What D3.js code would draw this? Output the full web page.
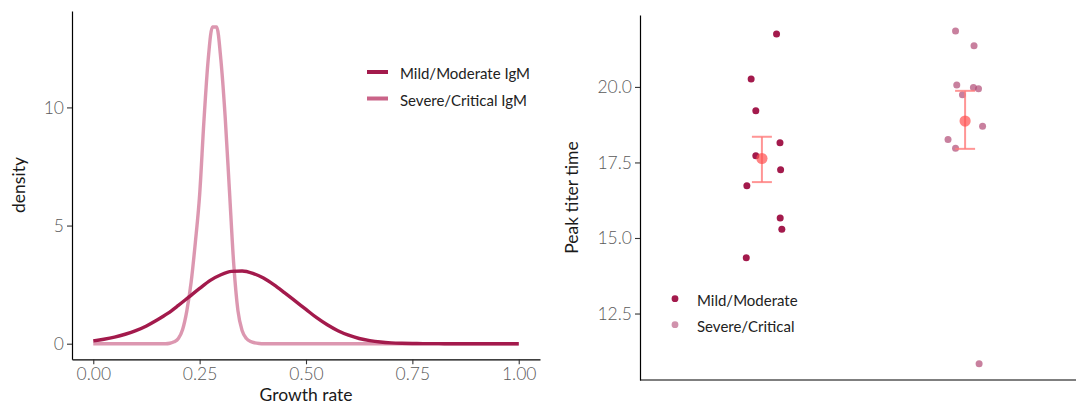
<!DOCTYPE html>
<html><head><meta charset="utf-8">
<script src="https://cdn.jsdelivr.net/npm/d3@7"></script>
<style>
body{margin:0;background:#fff}
svg{display:block}
text{font-family:Lato,"Open Sans",sans-serif}
</style>
</head><body>
<svg id="c" width="1076" height="408"></svg>
<script>
// ---------- Left panel data: density of growth rate ----------
const mildX = [0,0.025,0.05,0.075,0.1,0.125,0.15,0.175,0.2,0.225,0.25,0.275,0.3,0.325,0.35,0.375,0.4,0.425,0.45,0.475,0.5,0.525,0.55,0.575,0.6,0.625,0.65,0.675,0.7,0.725,0.75,0.775,0.8,0.825,0.85,0.875,0.9,0.925,0.95,0.975,1];
const mildDensity = [0.12,0.19,0.28,0.40,0.55,0.75,1.00,1.28,1.62,1.98,2.34,2.68,2.92,3.06,3.08,2.98,2.78,2.49,2.15,1.80,1.45,1.10,0.80,0.55,0.36,0.22,0.13,0.07,0.035,0.017,0.008,0.004,0.002,0.001,0,0,0,0,0,0,0];
const severeX = [0,0.1,0.16,0.17,0.18,0.19,0.2,0.21,0.22,0.23,0.24,0.25,0.26,0.27,0.28,0.29,0.3,0.31,0.32,0.33,0.34,0.35,0.36,0.37,0.38,0.39,0.4,0.5,0.6,0.7];
const severeDensity = [0,0,0,0,0.02,0.08,0.22,0.60,1.40,2.60,4.30,6.30,9.40,12.0,13.4,13.4,12.0,9.6,6.5,3.4,1.4,0.55,0.22,0.09,0.035,0.01,0,0,0,0];
const growthTicks = [0,0.25,0.5,0.75,1];
const densityTicks = [0,5,10];
const densitySeries = ["Mild/Moderate IgM","Severe/Critical IgM"];

// ---------- Right panel data: peak titer time ----------
const groups = ["Mild/Moderate","Severe/Critical"];
const mildPeak = [21.75,20.26,19.21,18.15,17.72,17.26,16.73,15.66,15.29,14.35];
const mildJitter = [0.072,-0.053,-0.030,0.089,-0.030,0.092,-0.074,0.090,0.098,-0.077];
const severePeak = [21.85,21.36,20.06,19.98,19.94,19.74,18.70,18.26,17.97,10.84];
const severeJitter = [-0.047,0.044,-0.041,0.041,0.066,-0.013,0.086,-0.084,-0.047,0.069];
const groupMeans = [17.63,18.87];
const errLow = [16.85,17.95];
const errHigh = [18.35,19.87];
const peakTicks = [12.5,15,17.5,20];

const mildCol = "#A31A4C";
const sevCol = "#C4527B";
const sevPointCol = "#B04A75";

const svg = d3.select("#c");

// ===== Left panel =====
const xL = d3.scaleLinear().domain([-0.05,1.05]).range([72,540]);
const yL = d3.scaleLinear().domain([-0.66,14.08]).range([359.3,11]);

const line = d3.line().x(d=>xL(d[0])).y(d=>yL(d[1])).curve(d3.curveMonotoneX);
svg.append("path").datum(severeX.map((x,i)=>[x,severeDensity[i]]).concat([[1,0]]))
  .attr("d",line).attr("fill","none").attr("stroke",sevCol).attr("stroke-opacity",0.6)
  .attr("stroke-width",3.4).attr("stroke-linejoin","round");
svg.append("path").datum(mildX.map((x,i)=>[x,mildDensity[i]]))
  .attr("d",line).attr("fill","none").attr("stroke",mildCol)
  .attr("stroke-width",3.4).attr("stroke-linejoin","round");

const styleAxis = g => {
  g.select(".domain").attr("stroke","#000").attr("stroke-width",1.2);
  g.selectAll(".tick line").attr("stroke","#333").attr("stroke-width",1.1);
  g.selectAll(".tick text").attr("fill","#5a5a5a").attr("font-size",17.5).attr("font-weight",300);
};
svg.append("g").attr("transform","translate(72,0)")
  .call(d3.axisLeft(yL).tickValues(densityTicks).tickSize(5).tickSizeOuter(0).tickPadding(3).tickFormat(d3.format("d")))
  .call(styleAxis);
svg.append("g").attr("transform","translate(0,359.3)")
  .call(d3.axisBottom(xL).tickValues(growthTicks).tickSize(5).tickSizeOuter(0).tickPadding(3).tickFormat(d3.format(".2f")))
  .call(styleAxis);

svg.append("text").attr("transform","translate(25,185) rotate(-90)").attr("text-anchor","middle")
  .attr("font-size",17.5).attr("fill","#1a1a1a").text("density");
svg.append("text").attr("x",306).attr("y",401).attr("text-anchor","middle")
  .attr("font-size",17.5).attr("fill","#1a1a1a").text("Growth rate");

// left legend
const legL = svg.append("g");
densitySeries.forEach((s,i)=>{
  const y = 72 + i*26.5;
  legL.append("line").attr("x1",367).attr("x2",388).attr("y1",y).attr("y2",y)
    .attr("stroke", i===0?mildCol:sevCol).attr("stroke-opacity", i===0?1:0.9).attr("stroke-width",4);
  legL.append("text").attr("x",400).attr("y",y+1).attr("dominant-baseline","central")
    .attr("font-size",15).attr("fill","#222").text(s);
});

// ===== Right panel =====
const xR = d3.scalePoint().domain(groups).range([640,1087]).padding(0.6);
const step = xR.step();
const yR = d3.scaleLinear().domain([10.30,22.38]).range([380,15]);

svg.append("g").attr("transform","translate(640,0)")
  .call(d3.axisLeft(yR).tickValues(peakTicks).tickSize(5).tickSizeOuter(0).tickPadding(3).tickFormat(d3.format(".1f")))
  .call(styleAxis);
svg.append("line").attr("x1",640).attr("x2",1076).attr("y1",380).attr("y2",380)
  .attr("stroke","#000").attr("stroke-width",1.2);

svg.append("text").attr("transform","translate(578,197.5) rotate(-90)").attr("text-anchor","middle")
  .attr("font-size",17.5).attr("fill","#1a1a1a").text("Peak titer time");

const pts = [
  ...mildPeak.map((v,i)=>({g:groups[0],v,j:mildJitter[i]})),
  ...severePeak.map((v,i)=>({g:groups[1],v,j:severeJitter[i]}))
];
svg.append("g").selectAll("circle").data(pts).join("circle")
  .attr("cx",d=>xR(d.g)+d.j*step).attr("cy",d=>yR(d.v)).attr("r",3.5)
  .attr("fill",d=>d.g===groups[0]?mildCol:sevPointCol)
  .attr("fill-opacity",d=>d.g===groups[0]?1:0.7);

// error bars + means
groups.forEach((g,i)=>{
  const cx = xR(g);
  const eb = svg.append("g").attr("stroke","#FF7A7A").attr("stroke-opacity",0.8).attr("stroke-width",2);
  eb.append("line").attr("x1",cx).attr("x2",cx).attr("y1",yR(errLow[i])).attr("y2",yR(errHigh[i]));
  eb.append("line").attr("x1",cx-10).attr("x2",cx+10).attr("y1",yR(errLow[i])).attr("y2",yR(errLow[i]));
  eb.append("line").attr("x1",cx-10).attr("x2",cx+10).attr("y1",yR(errHigh[i])).attr("y2",yR(errHigh[i]));
  svg.append("circle").attr("cx",cx).attr("cy",yR(groupMeans[i])).attr("r",5.6)
    .attr("fill","#FF5050").attr("fill-opacity",0.7);
});

// right legend
groups.forEach((g,i)=>{
  const y = 298.7 + i*26;
  svg.append("circle").attr("cx",675).attr("cy",y).attr("r",3.4)
    .attr("fill", i===0?mildCol:sevPointCol).attr("fill-opacity", i===0?1:0.6);
  svg.append("text").attr("x",697).attr("y",y+1).attr("dominant-baseline","central")
    .attr("font-size",15).attr("fill","#222").text(g);
});
</script>
</body></html>
